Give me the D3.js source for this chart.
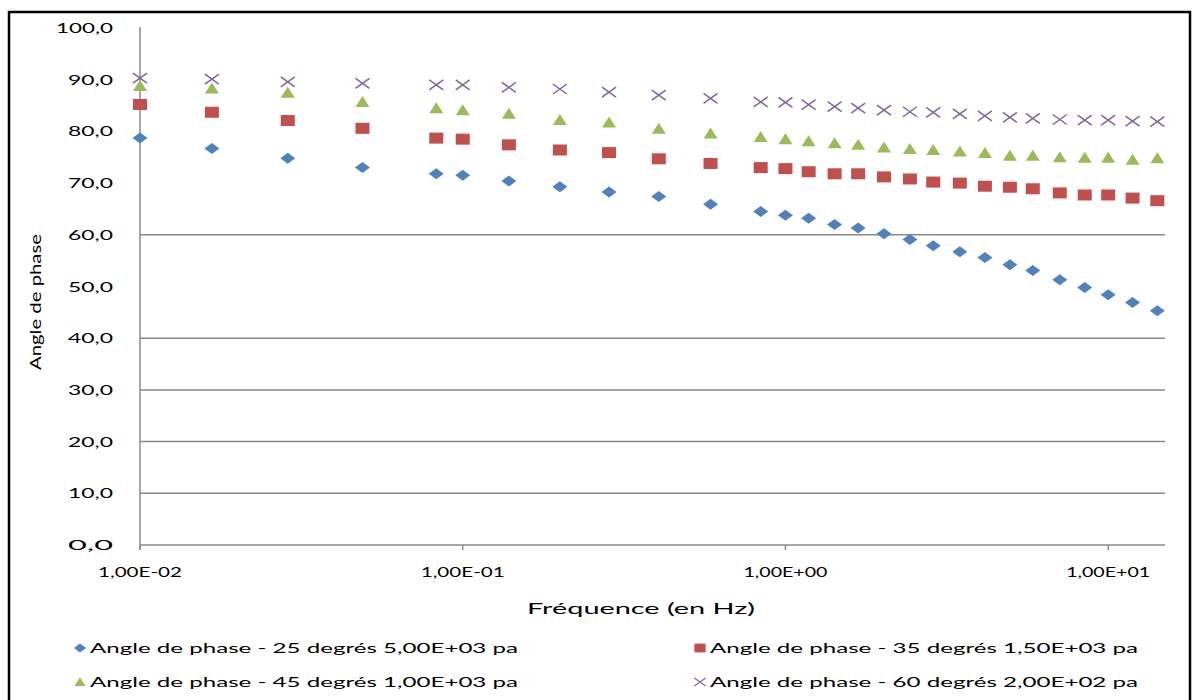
<!DOCTYPE html>
<html>
<head>
<meta charset="utf-8">
<script src="https://cdn.jsdelivr.net/npm/d3@7"></script>
<style>
  body { margin: 0; background: #fff; }
  text { font-family: Lato, "Open Sans", sans-serif; fill: #000; }
</style>
</head>
<body>
<svg id="chart"></svg>
<script>
// frequencies (Hz), shared by all four series
const freqs = [0.01, 0.0167, 0.0287, 0.0489, 0.0828, 0.1, 0.139, 0.2, 0.284, 0.405,
  0.586, 0.838, 1, 1.18, 1.42, 1.68, 2.02, 2.43, 2.87, 3.47,
  4.15, 4.96, 5.84, 7.08, 8.46, 10, 11.9, 14.2];

const phase25 = [78.7, 76.7, 74.8, 73.0, 71.8, 71.5, 70.4, 69.3, 68.3, 67.4,
  65.9, 64.5, 63.8, 63.2, 62.0, 61.3, 60.2, 59.1, 57.9, 56.7,
  55.6, 54.2, 53.1, 51.3, 49.8, 48.4, 46.9, 45.3];
const phase35 = [85.2, 83.7, 82.1, 80.6, 78.7, 78.5, 77.4, 76.4, 75.9, 74.7,
  73.8, 73.0, 72.8, 72.2, 71.8, 71.8, 71.2, 70.8, 70.2, 70.0,
  69.4, 69.2, 68.9, 68.1, 67.7, 67.7, 67.1, 66.6];
const phase45 = [88.8, 88.3, 87.5, 85.7, 84.5, 84.1, 83.4, 82.2, 81.7, 80.5,
  79.6, 78.9, 78.5, 78.1, 77.7, 77.4, 76.9, 76.6, 76.4, 76.1,
  75.8, 75.3, 75.3, 75.0, 74.9, 74.9, 74.5, 74.8];
const phase60 = [90.3, 90.1, 89.6, 89.3, 89.0, 89.0, 88.5, 88.2, 87.6, 87.0,
  86.4, 85.7, 85.6, 85.2, 84.8, 84.5, 84.1, 83.8, 83.7, 83.4,
  83.0, 82.7, 82.5, 82.3, 82.2, 82.2, 82.0, 81.9];

const seriesNames = [
  "Angle de phase - 25 degrés 5,00E+03 pa",
  "Angle de phase - 35 degrés 1,50E+03 pa",
  "Angle de phase - 45 degrés 1,00E+03 pa",
  "Angle de phase - 60 degrés 2,00E+02 pa"
];
const xTickValues = [0.01, 0.1, 1, 10];
const xTickLabels = ["1,00E-02", "1,00E-01", "1,00E+00", "1,00E+01"];
const yTickValues = [0, 10, 20, 30, 40, 50, 60, 70, 80, 90, 100];
const gridValues = [0, 10, 20, 30, 40, 60];

const colors = ["#4F81BD", "#C0504D", "#9BBB59", "#8064A2"];
const shapes = ["diamond", "square", "triangle", "cross"];

let width = 1197, height = 700;
let plotLeft = 140, plotRight = 1165, plotTop = 28, plotBottom = 545;

let svg = d3.select("#chart").attr("width", width).attr("height", height);

// outer frame (bottom edge runs off the picture)
svg.append("rect")
  .attr("x", 9).attr("y", 12)
  .attr("width", 1181).attr("height", 720)
  .attr("fill", "none").attr("stroke", "#000").attr("stroke-width", 2.5);

let xScale = d3.scaleLog().domain([0.01, 15]).range([plotLeft, plotRight]);
let yScale = d3.scaleLinear().domain([0, 100]).range([plotBottom, plotTop]);

// horizontal gridlines
svg.append("g").selectAll("line")
  .data(gridValues)
  .enter().append("line")
  .attr("x1", plotLeft).attr("x2", plotRight)
  .attr("y1", d => yScale(d)).attr("y2", d => yScale(d))
  .attr("stroke", "#8a8a8a").attr("stroke-width", 1.5);

// y axis line
svg.append("line")
  .attr("x1", plotLeft).attr("x2", plotLeft)
  .attr("y1", plotTop - 1).attr("y2", plotBottom + 5)
  .attr("stroke", "#8a8a8a").attr("stroke-width", 1.5);

// x axis ticks (decades)
svg.append("g").selectAll("line")
  .data(xTickValues)
  .enter().append("line")
  .attr("x1", d => xScale(d)).attr("x2", d => xScale(d))
  .attr("y1", plotBottom).attr("y2", plotBottom + 5)
  .attr("stroke", "#8a8a8a").attr("stroke-width", 1.5);

// y tick labels
svg.append("g").selectAll("text")
  .data(yTickValues)
  .enter().append("text")
  .attr("x", 113)
  .attr("y", d => yScale(d) + 5)
  .attr("text-anchor", "end")
  .style("font-size", "14px")
  .attr("textLength", d => d >= 100 ? 57 : 45)
  .attr("lengthAdjust", "spacingAndGlyphs")
  .text(d => d3.format(".1f")(d).replace(".", ","));

// x tick labels
svg.append("g").selectAll("text")
  .data(xTickValues)
  .enter().append("text")
  .attr("x", d => xScale(d))
  .attr("y", 577)
  .attr("text-anchor", "middle")
  .style("font-size", "14px")
  .attr("textLength", 84)
  .attr("lengthAdjust", "spacingAndGlyphs")
  .text((d, i) => xTickLabels[i]);

// axis titles
svg.append("text")
  .attr("x", 641).attr("y", 614)
  .attr("text-anchor", "middle")
  .style("font-size", "15px")
  .attr("textLength", 228)
  .attr("lengthAdjust", "spacingAndGlyphs")
  .text("Fréquence (en Hz)");

svg.append("text")
  .attr("transform", "translate(41,302) rotate(-90)")
  .attr("text-anchor", "middle")
  .style("font-size", "15px")
  .attr("textLength", 136)
  .attr("lengthAdjust", "spacingAndGlyphs")
  .text("Angle de phase");

// marker drawing, shapes a bit wider than tall like the original
function drawMarker(g, shape, color) {
  if (shape === "diamond") {
    g.append("path").attr("d", "M-7.5,0L0,-5.5L7.5,0L0,5.5Z").attr("fill", color);
  } else if (shape === "square") {
    g.append("rect").attr("x", -7).attr("y", -5.5).attr("width", 14).attr("height", 11).attr("fill", color);
  } else if (shape === "triangle") {
    g.append("path").attr("d", "M-7,5L0,-6L7,5Z").attr("fill", color);
  } else {
    g.append("path").attr("d", "M-7,-5L7,5M-7,5L7,-5")
      .attr("stroke", color).attr("stroke-width", 1.5).attr("fill", "none");
  }
}

let allSeries = [phase25, phase35, phase45, phase60];

allSeries.forEach(function(values, si) {
  let pts = values.map((v, i) => ({ f: freqs[i], v: v }));
  svg.append("g").selectAll("g")
    .data(pts)
    .enter().append("g")
    .attr("transform", d => `translate(${xScale(d.f)},${yScale(d.v)})`)
    .each(function() { drawMarker(d3.select(this), shapes[si], colors[si]); });
});

// legend, two columns
let legendPos = [[80, 648], [700, 648], [80, 682], [700, 682]];
seriesNames.forEach(function(name, i) {
  let g = svg.append("g").attr("transform", `translate(${legendPos[i][0]},${legendPos[i][1]})`);
  drawMarker(g.append("g").attr("transform", "scale(0.8)"), shapes[i], colors[i]);
  g.append("text")
    .attr("x", 10).attr("y", 5)
    .style("font-size", "14px")
    .attr("textLength", 428)
    .attr("lengthAdjust", "spacingAndGlyphs")
    .text(name);
});
</script>
</body>
</html>
